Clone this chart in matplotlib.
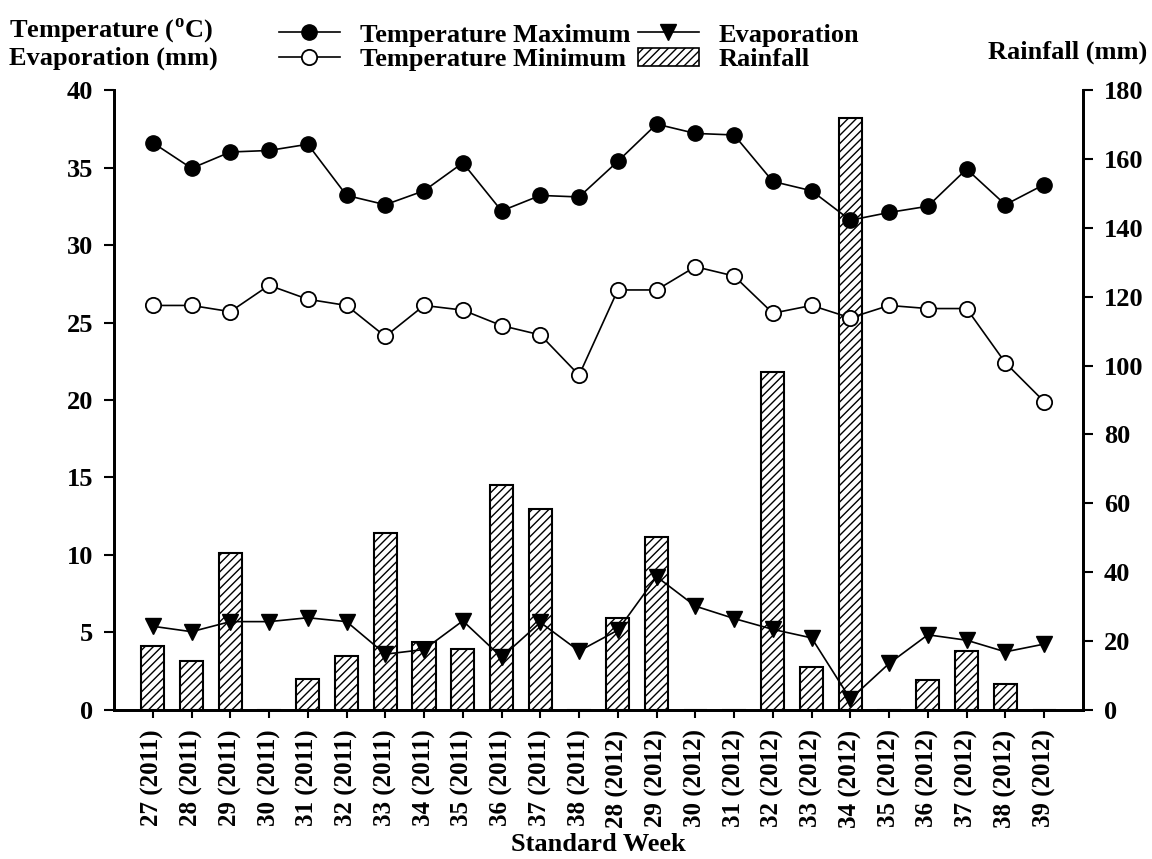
import numpy as np
import matplotlib.pyplot as plt
from matplotlib.lines import Line2D
from matplotlib.patches import Patch

plt.rcParams['font.family'] = 'Liberation Serif'
plt.rcParams['font.weight'] = 'bold'
plt.rcParams['mathtext.fontset'] = 'custom'
plt.rcParams['mathtext.rm'] = 'Liberation Serif:bold'
plt.rcParams['mathtext.bf'] = 'Liberation Serif:bold'
plt.rcParams['hatch.linewidth'] = 1.0

weeks = ['27 (2011)', '28 (2011)', '29 (2011)', '30 (2011)', '31 (2011)', '32 (2011)',
         '33 (2011)', '34 (2011)', '35 (2011)', '36 (2011)', '37 (2011)', '38 (2011)',
         '28 (2012)', '29 (2012)', '30 (2012)', '31 (2012)', '32 (2012)', '33 (2012)',
         '34 (2012)', '35 (2012)', '36 (2012)', '37 (2012)', '38 (2012)', '39 (2012)']

tmax = [36.6, 34.95, 36.0, 36.1, 36.5, 33.2, 32.6, 33.5, 35.3, 32.2, 33.2, 33.1,
        35.4, 37.8, 37.2, 37.1, 34.1, 33.5, 31.6, 32.1, 32.5, 34.9, 32.6, 33.9]
tmin = [26.1, 26.1, 25.7, 27.4, 26.5, 26.1, 24.1, 26.1, 25.8, 24.8, 24.2, 21.6,
        27.1, 27.1, 28.6, 28.0, 25.6, 26.1, 25.3, 26.1, 25.9, 25.9, 22.4, 19.9]
evap = [5.4, 5.05, 5.7, 5.7, 5.95, 5.7, 3.6, 3.9, 5.75, 3.4, 5.65, 3.8,
        5.15, 8.6, 6.7, 5.9, 5.2, 4.65, 0.7, 3.0, 4.85, 4.5, 3.75, 4.25]
rain = [18.5, 14.2, 45.7, 0, 9.0, 15.7, 51.3, 19.8, 17.6, 65.3, 58.4, 0,
        26.6, 50.1, 0, 0, 98.1, 12.6, 172.0, 0, 8.7, 17.1, 7.4, 0]

x = np.arange(len(weeks))
fs = 19

fig = plt.figure(figsize=(11.52, 8.59), dpi=100)
ax1 = fig.add_axes([0.099, 0.1735, 0.841, 0.7217])
ax2 = ax1.twinx()

ax2.bar(x, rain, width=0.6, color='white', edgecolor='black', hatch='////', linewidth=1.5)

ax1.plot(x, tmax, '-o', color='black', lw=1.2, ms=11, mfc='black', mec='black')
ax1.plot(x, tmin, '-o', color='black', lw=1.2, ms=11, mfc='white', mec='black', mew=1.3)
ax1.plot(x, evap, '-v', color='black', lw=1.2, ms=11, mfc='black', mec='black')

# lines above the bars
ax1.set_zorder(2)
ax1.patch.set_visible(False)

ax1.set_xlim(-1, len(weeks))
ax1.set_ylim(0, 40)
ax2.set_ylim(0, 180)
ax1.set_yticks(range(0, 41, 5))
ax2.set_yticks(range(0, 181, 20))
ax1.set_xticks(x)
ax1.set_xticklabels(weeks, rotation=90)

for ax in (ax1, ax2):
    ax.spines['top'].set_visible(False)
    for s in ('left', 'right', 'bottom'):
        ax.spines[s].set_linewidth(2)
    ax.tick_params(axis='y', direction='out', length=7, width=1.5, pad=8, labelsize=fs)
ax1.tick_params(axis='x', direction='out', length=6, width=1.5, pad=8, labelsize=18)
for lab in ax1.get_xticklabels() + ax1.get_yticklabels() + ax2.get_yticklabels():
    lab.set_fontweight('bold')

ax1.set_xlabel('Standard Week', fontsize=fs, fontweight='bold', labelpad=4)

fig.text(0.008, 0.965, r'Temperature ($^{\mathbf{o}}$C)', fontsize=fs, fontweight='bold', va='center')
fig.text(0.008, 0.9325, 'Evaporation (mm)', fontsize=fs, fontweight='bold', va='center')
fig.text(0.9957, 0.9395, 'Rainfall (mm)', fontsize=fs, fontweight='bold', va='center', ha='right')

handles = [
    Line2D([], [], color='black', lw=1.2, marker='o', ms=11, mfc='black'),
    Line2D([], [], color='black', lw=1.2, marker='o', ms=11, mfc='white', mew=1.3),
    Line2D([], [], color='black', lw=1.2, marker='v', ms=11, mfc='black'),
    Patch(facecolor='white', edgecolor='black', hatch='////', linewidth=1.2),
]
labels = ['Temperature Maximum', 'Temperature Minimum', 'Evaporation', 'Rainfall']
fig.legend(handles, labels, ncol=2, frameon=False, loc='center',
           bbox_to_anchor=(0.494, 0.945), prop={'size': fs, 'weight': 'bold'},
           handlelength=2.3, handletextpad=0.75, columnspacing=0.3, labelspacing=0.05,
           borderpad=0.2)

fig.savefig('out.png', dpi=100)
